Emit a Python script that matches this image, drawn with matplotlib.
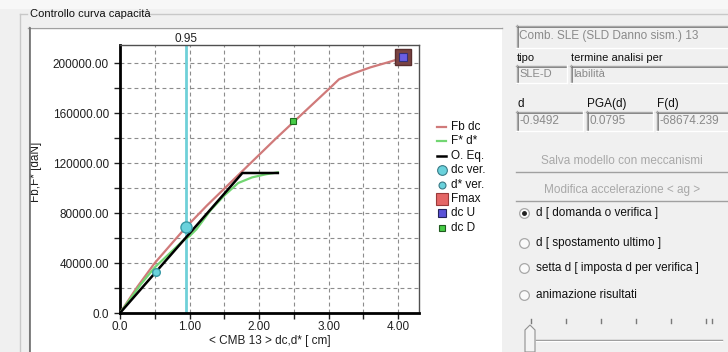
import numpy as np
import matplotlib
matplotlib.use("Agg")
import matplotlib.pyplot as plt
from matplotlib.patches import Rectangle, Polygon
from matplotlib.lines import Line2D
from matplotlib.ticker import FixedLocator, FuncFormatter
import matplotlib.transforms as mtransforms

# ---------------- data ----------------
fb_d = [0, 0.25, 0.5, 0.75, 0.95, 1.25, 1.5, 1.75, 2.0, 2.25, 2.5, 2.75, 3.0, 3.15, 3.35, 3.6, 3.85, 4.0, 4.07]
fb_F = [0, 21000, 40000, 56000, 68700, 86000, 99500, 113000, 126500, 140000, 153000, 166000, 179000, 187000, 191500, 196500, 200500, 203000, 204500]

fs_d = [0, 0.15, 0.3, 0.5, 0.7, 0.9, 1.0, 1.1, 1.3, 1.5, 1.6, 1.7, 1.9, 2.1, 2.27]
fs_F = [0, 11500, 23000, 36500, 47000, 57500, 61500, 67000, 82000, 94000, 99000, 104000, 108500, 111000, 112500]

eq_d = [0, 1.76, 2.27]
eq_F = [0, 112000, 112000]

dc_ver = (0.9492, 68674)
ds_ver = (0.52, 32800)
fmax_pt = (4.07, 204800)
dcU_pt = (4.07, 204800)
dcD_pt = (2.49, 153300)
d_line = 0.9492

legend_labels = ["Fb dc", "F* d*", "O. Eq.", "dc ver.", "d* ver.", "Fmax", "dc U", "dc D"]

x_ticks = [0, 0.5, 1.0, 1.5, 2.0, 2.5, 3.0, 3.5, 4.0]
y_ticks = [0, 20000, 40000, 60000, 80000, 100000, 120000, 140000, 160000, 180000, 200000]

group_title = "Controllo curva capacità"
combo_text = "Comb. SLE (SLD Danno sism.) 13"
tipo_lbl, termine_lbl = "tipo", "termine analisi per"
tipo_val, termine_val = "SLE-D", "labilità"
d_lbl, pga_lbl, fd_lbl = "d", "PGA(d)", "F(d)"
d_val, pga_val, fd_val = "-0.9492", "0.0795", "-68674.239"
btn1, btn2 = "Salva modello con meccanismi", "Modifica accelerazione < ag >"
radios = ["d [ domanda o verifica ]", "d [ spostamento ultimo ]",
          "setta d [ imposta d per verifica ]", "animazione risultati"]

# ---------------- figure ----------------
plt.rcParams['font.family'] = ['Liberation Sans', 'DejaVu Sans']
W, H = 728, 352
fig = plt.figure(figsize=(W / 100, H / 100), dpi=100, facecolor='#f0f0f0')

def fx(x): return x / W
def fy(y): return 1 - y / H

def rect(x0, y0, x1, y1, fc='none', ec='none', lw=1, z=0):
    fig.add_artist(Rectangle((fx(x0), fy(y1)), (x1 - x0) / W, (y1 - y0) / H,
                             transform=fig.transFigure, fc=fc, ec=ec, lw=lw, zorder=z))

def hline(x0, x1, y, c, lw=1, z=1):
    fig.add_artist(Line2D([fx(x0), fx(x1)], [fy(y), fy(y)], transform=fig.transFigure,
                          color=c, lw=lw, zorder=z))

def vline(x, y0, y1, c, lw=1, z=1):
    fig.add_artist(Line2D([fx(x), fx(x)], [fy(y0), fy(y1)], transform=fig.transFigure,
                          color=c, lw=lw, zorder=z))

def sunken(x0, y0, x1, y1, fc='#f0f0f0'):
    rect(x0, y0, x1, y1, fc=fc)
    hline(x0, x1, y0 + 0.5, '#a8a8a8', 1)
    vline(x0 + 0.5, y0, y1, '#a8a8a8', 1)
    hline(x0 + 1, x1, y0 + 1.5, '#787878', 0.6)
    vline(x0 + 1.5, y0 + 1, y1, '#787878', 0.6)
    hline(x0, x1, y1 - 0.5, '#ffffff', 1)
    vline(x1 - 0.5, y0, y1, '#ffffff', 1)

def txt(x, y, s, c='#101010', size=8, ha='left', va='center', **kw):
    fig.text(fx(x), fy(y), s, color=c, fontsize=size, ha=ha, va=va, **kw)

# top light band and group box
rect(0, 0, W, 9, fc='#f7f7f7')
hline(20, 27, 14, '#c8c8c8')
hline(148, W, 14, '#c8c8c8')
vline(20, 14, H, '#c8c8c8')
txt(30, 14, group_title, size=8)

# white chart panel
rect(28, 27, 502, H, fc='#ffffff')
hline(28, 502, 27.5, '#a0a0a0')
vline(28.5, 27, H, '#a0a0a0')
vline(30, 28, H, '#707070', 1.2)

# ---------------- chart ----------------
ax = fig.add_axes([fx(120), fy(313), 299 / W, 268 / H])
ax.set_facecolor('white')
ax.set_xlim(0, 4.30)
ax.set_ylim(0, 214400)

ax.xaxis.set_major_locator(FixedLocator(x_ticks))
ax.yaxis.set_major_locator(FixedLocator(y_ticks))

def xfmt(v, p):
    if abs(v) < 1e-9:
        return "0.0"
    if abs(v - round(v)) < 1e-9:
        return "%.2f" % v
    return ""

def yfmt(v, p):
    if abs(v) < 1e-9:
        return "0.0"
    if int(round(v)) % 40000 == 0:
        return "%.2f" % v
    return ""

ax.xaxis.set_major_formatter(FuncFormatter(xfmt))
ax.yaxis.set_major_formatter(FuncFormatter(yfmt))
ax.tick_params(axis='both', direction='out', length=4, width=1, color='#202020',
               labelsize=8.5, labelcolor='#202020', pad=2)
ax.tick_params(axis='y', pad=4)

ax.grid(True, color='#8c8c8c', lw=0.8, linestyle=(0, (3.5, 2.8)))
ax.set_axisbelow(True)

for s in ['left', 'bottom']:
    ax.spines[s].set_color('black')
    ax.spines[s].set_linewidth(2)
for s in ['top', 'right']:
    ax.spines[s].set_color('#505050')
    ax.spines[s].set_linewidth(1)

ax.set_xlabel("< CMB 13 > dc,d* [ cm]", fontsize=8.5, color='#202020', labelpad=1)
ax.set_ylabel("Fb,F* [daN]", fontsize=8.5, color='#202020')
ax.yaxis.set_label_coords((42 - 120) / 299, (313 - 172) / 268)

ax.axvline(d_line, color='#6fd0d8', lw=2, zorder=2)
ax.text(d_line, 1.0, "0.95", transform=mtransforms.blended_transform_factory(ax.transData, ax.transAxes),
        ha='center', va='bottom', fontsize=8.5, color='#202020')

ax.plot(fb_d, fb_F, color='#d07a7a', lw=1.6, zorder=3)
ax.plot(fs_d, fs_F, color='#72d672', lw=1.6, zorder=3)
ax.plot(eq_d, eq_F, color='black', lw=1.8, zorder=4)

ax.plot([dc_ver[0]], [dc_ver[1]], 'o', ms=8, mfc='#6ad2dc', mec='#3a9aa6', mew=1, zorder=6)
ax.plot([ds_ver[0]], [ds_ver[1]], 'o', ms=5.5, mfc='#6ad2dc', mec='#3a9aa6', mew=1, zorder=6)
ax.plot([fmax_pt[0]], [fmax_pt[1]], 's', ms=11, mfc='#7a4444', mec='#5a2e2e', mew=1, zorder=6, clip_on=False)
ax.plot([dcU_pt[0]], [dcU_pt[1]], 's', ms=6, mfc='#6a5ee6', mec='#34307a', mew=0.8, zorder=7, clip_on=False)
ax.plot([dcD_pt[0]], [dcD_pt[1]], 's', ms=5, mfc='#46cc46', mec='#1f6a1f', mew=0.8, zorder=6)

# ---------------- legend ----------------
leg_styles = [
    dict(color='#d07a7a', lw=1.6, marker=None),
    dict(color='#72d672', lw=1.6, marker=None),
    dict(color='black', lw=1.8, marker=None),
    dict(color='none', marker='o', ms=7, mfc='#6ad2dc', mec='#3a7a86', mew=0.8),
    dict(color='none', marker='o', ms=5, mfc='#6ad2dc', mec='#3a7a86', mew=0.8),
    dict(color='none', marker='s', ms=9, mfc='#e46666', mec='#9a3a3a', mew=0.8),
    dict(color='none', marker='s', ms=6, mfc='#5a52d8', mec='#24245a', mew=0.8),
    dict(color='none', marker='s', ms=4.5, mfc='#46cc46', mec='#1f5a1f', mew=0.8),
]
for i, (lab, st) in enumerate(zip(legend_labels, leg_styles)):
    y = 127 + 14.4 * i
    if st['marker'] is None:
        fig.add_artist(Line2D([fx(437), fx(446)], [fy(y), fy(y)], transform=fig.transFigure,
                              color=st['color'], lw=st['lw']))
    else:
        fig.add_artist(Line2D([fx(442)], [fy(y)], transform=fig.transFigure, linestyle='none',
                              marker=st['marker'], ms=st['ms'], mfc=st['mfc'], mec=st['mec'], mew=st['mew']))
    txt(451, y, lab, size=8.5)

# ---------------- right controls ----------------
sunken(516, 25, 732, 48)
txt(519, 36.5, combo_text, c='#8a8a8a', size=8.5)

txt(517, 58, tipo_lbl, size=8)
txt(571, 58, termine_lbl, size=8)
sunken(516, 65, 567, 83)
sunken(570, 65, 732, 83)
txt(519, 74, tipo_val, c='#8a8a8a', size=8)
txt(573, 74, termine_val, c='#8a8a8a', size=8)

txt(517, 104, d_lbl, size=8.5)
txt(587, 104, pga_lbl, size=8.5)
txt(657, 104, fd_lbl, size=8.5)
sunken(516, 111, 583, 131)
sunken(586, 111, 653, 131)
sunken(656, 111, 732, 131)
txt(519, 121, d_val, c='#8a8a8a', size=8.5)
txt(589, 121, pga_val, c='#8a8a8a', size=8.5)
txt(659, 121, fd_val, c='#8a8a8a', size=8.5)

for (y0, y1, s) in [(149, 173, btn1), (178, 202, btn2)]:
    rect(516, y0, 732, y1, fc='#f0f0f0')
    hline(516, 732, y1 - 0.5, '#a0a0a0')
    txt(622, (y0 + y1) / 2, s, c='#a8a8a8', size=8.5, ha='center')

for i, s in enumerate(radios):
    y = [213, 243, 268, 295][i]
    fig.add_artist(Line2D([fx(524)], [fy(y)], transform=fig.transFigure, linestyle='none',
                          marker='o', ms=7, mfc='#fafafa', mec='#a8a8a8', mew=0.9))
    if i == 0:
        fig.add_artist(Line2D([fx(524)], [fy(y)], transform=fig.transFigure, linestyle='none',
                              marker='o', ms=2.5, mfc='#202020', mec='#202020'))
    txt(536, y, s, size=8.5)

# slider
for xt in [531, 566, 601, 636, 671, 706, 712]:
    vline(xt, 319, 323, '#7a7a7a', 1)
hline(536, 722, 339.5, '#8a8a8a', 1)
hline(536, 722, 340.5, '#ffffff', 1)
fig.add_artist(Polygon([[fx(525), fy(352)], [fx(525), fy(330)], [fx(530), fy(325)],
                        [fx(535), fy(330)], [fx(535), fy(352)]], closed=True,
                       transform=fig.transFigure, fc='#f4f4f4', ec='#909090', lw=0.8))

fig.savefig("out.png", dpi=100, facecolor=fig.get_facecolor())
